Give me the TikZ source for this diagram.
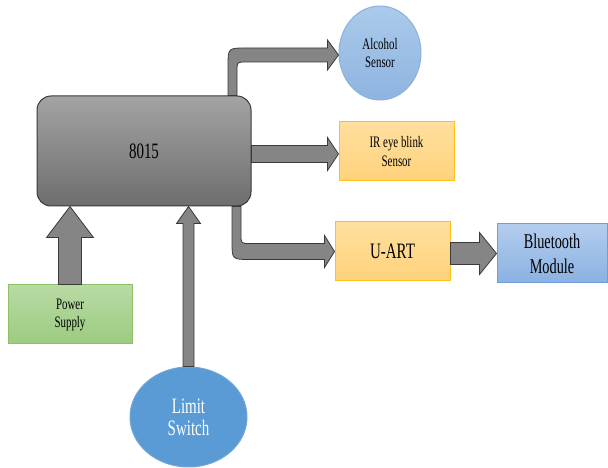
\documentclass[tikz,border=0pt]{standalone}
\usepackage{fontspec}
\setmainfont{Liberation Serif}[FakeStretch=0.68]
\usetikzlibrary{shapes.geometric,calc}
\definecolor{arrfill}{HTML}{858585}
\definecolor{arrdraw}{HTML}{3A3A3A}
\definecolor{HTML-ffdf9e}{HTML}{FFDF9E}
\definecolor{HTML-ffd27c}{HTML}{FFD27C}
\definecolor{HTML-ffc21a}{HTML}{FFC21A}
\definecolor{alctop}{HTML}{ABCAEB}
\definecolor{alcbot}{HTML}{8EB4E0}
\definecolor{alcdraw}{HTML}{8DB0DA}
\definecolor{bttop}{HTML}{B3CDEE}
\definecolor{btbot}{HTML}{8BB1E2}
\definecolor{btdraw}{HTML}{6E9FD8}
\definecolor{pstop}{HTML}{B8DAA4}
\definecolor{psbot}{HTML}{9CCB80}
\definecolor{psdraw}{HTML}{8CC168}
\definecolor{lsfill}{HTML}{5B9BD5}
\definecolor{lsdraw}{HTML}{6FA6DA}
\tikzset{
  fat/.style={fill=arrfill,draw=arrdraw,line width=0.8pt,line join=miter},
  cpubox/.style={rectangle,rounded corners=14pt,minimum width=214pt,minimum height=110pt,
    top color=black!36,bottom color=black!57,draw=arrdraw,line width=1pt,
    font=\fontsize{22}{24}\selectfont},
  yellowbox/.style={rectangle,minimum width=115pt,minimum height=59pt,top color=HTML-ffdf9e,
    bottom color=HTML-ffd27c,draw=HTML-ffc21a,line width=1pt,align=center},
}
% horizontal fat arrow: #1 start, #2 tip, #3 half shaft, #4 half head, #5 head length
\newcommand\myharr[5]{%
  \path[fat] let \p1=#1, \p2=#2 in
    (\x1,\y2+#3) -- (\x2-#5,\y2+#3) -- (\x2-#5,\y2+#4) -- (\x2,\y2)
    -- (\x2-#5,\y2-#4) -- (\x2-#5,\y2-#3) -- (\x1,\y2-#3) -- cycle;}
% vertical upward fat arrow
\newcommand\myvarr[5]{%
  \path[fat] let \p1=#1, \p2=#2 in
    (\x2-#3,\y1) -- (\x2-#3,\y2-#5) -- (\x2-#4,\y2-#5) -- (\x2,\y2)
    -- (\x2+#4,\y2-#5) -- (\x2+#3,\y2-#5) -- (\x2+#3,\y1) -- cycle;}
\begin{document}
\begin{tikzpicture}[x=1pt,y=1pt]
\useasboundingbox (0,0) rectangle (608,468);
% nodes
\node[cpubox] (cpu) at (144,317) {8015};
\node[ellipse,minimum width=82pt,minimum height=94pt,top color=alctop,bottom color=alcbot,
  draw=alcdraw,line width=1pt,align=center,font=\fontsize{16}{18}\selectfont]
  (alc) at (380,415) {Alcohol\\Sensor};
\node[yellowbox,font=\fontsize{16}{19}\selectfont] (ir) at (396.5,316.5) {IR eye blink\\Sensor};
\node[yellowbox,font=\fontsize{22}{24}\selectfont] (uart) at (392.5,216.5) {U-ART};
\node[rectangle,minimum width=110pt,minimum height=59pt,top color=bttop,bottom color=btbot,
  draw=btdraw,line width=1pt,align=center,font=\fontsize{21}{25}\selectfont]
  (bt) at (552,214.5) {Bluetooth\\Module};
\node[rectangle,minimum width=124pt,minimum height=59pt,top color=pstop,bottom color=psbot,
  draw=psdraw,line width=1pt,align=center,font=\fontsize{16}{18}\selectfont]
  (ps) at (70,153.5) {Power\\Supply};
\node[ellipse,minimum width=117pt,minimum height=100pt,fill=lsfill,draw=lsdraw,line width=1pt,
  text=white,align=center,font=\fontsize{22}{22}\selectfont]
  (ls) at (188.5,51) {Limit\\Switch};
% bent arrow to alcohol sensor
\path[fat] let \p1=(cpu.north), \p2=(alc.west) in
  (228pt,\y1) -- (228pt,\y2-13pt) .. controls (228pt,\y2+5pt) .. (246pt,\y2+5pt)
  -- (\x2-11pt,\y2+5pt) -- (\x2-11pt,\y2+13pt) -- (\x2,\y2-2pt) -- (\x2-11pt,\y2-17pt)
  -- (\x2-11pt,\y2-9pt) -- (246pt,\y2-9pt) .. controls (237pt,\y2-9pt) .. (237pt,\y2-18pt)
  -- (237pt,\y1) -- cycle;
% straight arrow to IR
\myharr{(cpu.east)}{([yshift=-2.5pt]ir.west)}{8.5pt}{16.5pt}{11pt}
% bent arrow to UART
\path[fat] let \p1=(cpu.south), \p2=(uart.west) in
  (232pt,\y1) -- (232pt,\y2+10pt) .. controls (232pt,\y2-8pt) .. (250pt,\y2-8pt)
  -- (\x2-10pt,\y2-8pt) -- (\x2-10pt,\y2-16pt) -- (\x2,\y2) -- (\x2-10pt,\y2+16pt)
  -- (\x2-10pt,\y2+8pt) -- (250pt,\y2+8pt) .. controls (241pt,\y2+8pt) .. (241pt,\y2+17pt)
  -- (241pt,\y1) -- cycle;
% UART to Bluetooth
\myharr{(uart.east)}{(bt.west)}{11pt}{21pt}{17pt}
% power supply up
\myvarr{(ps.north)}{(ps.north |- cpu.south)}{11.5pt}{23.5pt}{31pt}
% limit switch up
\myvarr{(ls.north)}{(ls.north |- cpu.south)}{5.5pt}{12pt}{17pt}
\end{tikzpicture}
\end{document}
